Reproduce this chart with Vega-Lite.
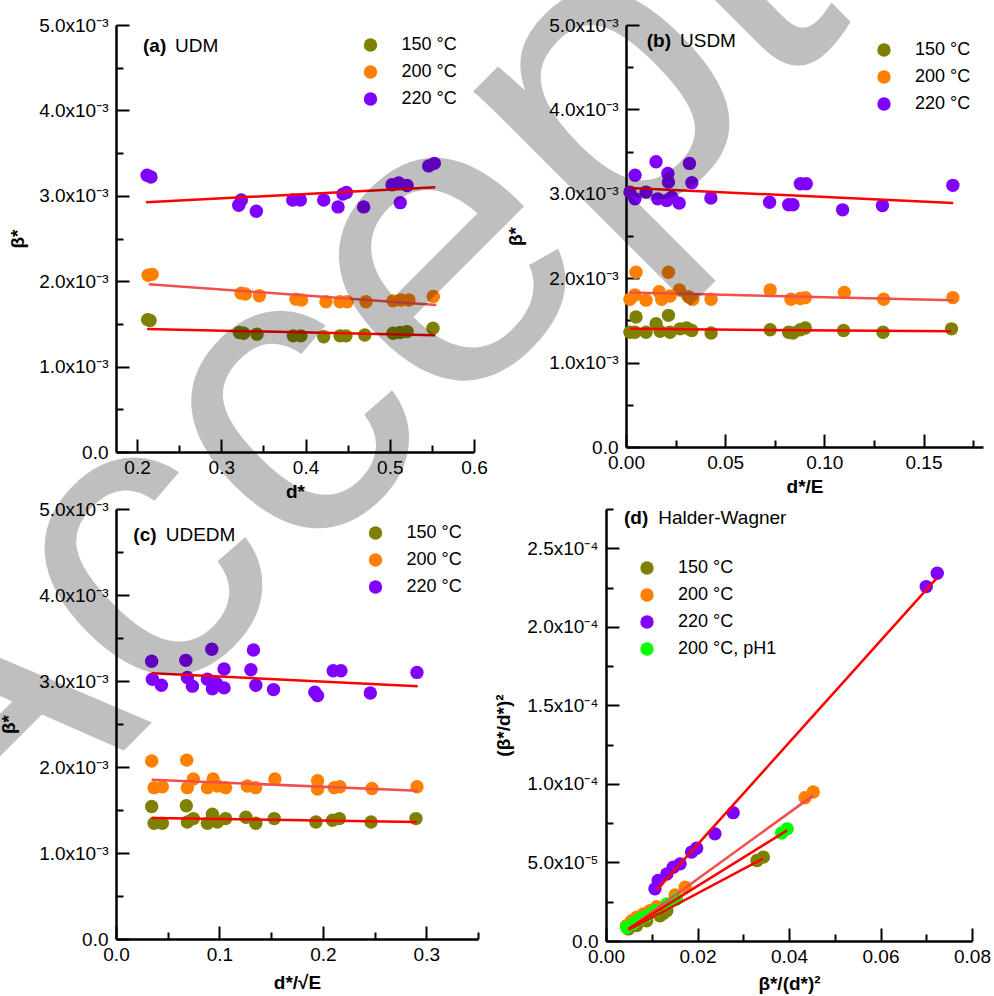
{
"$schema": "https://vega.github.io/schema/vega-lite/v6.json",
"autosize": {"type": "none"},
"padding": {"left": 116, "top": 25, "right": 878, "bottom": 971},
"background": "white",
"title": {"text": "Accepted", "anchor": "start", "frame": "group", "orient": "top", "offset": -1522, "align": "center", "baseline": "alphabetic", "angle": -45, "fontSize": 415, "font": "Liberation Sans", "fontWeight": "normal", "color": "rgba(0,0,0,0.25)", "dx": 118.5, "dy": 521.5, "zindex": 1, "limit": 10000},
"datasets": {
"a_pts": [
{"T":"150 °C","x":0.2125,"y":0.00155},{"T":"150 °C","x":0.2155,"y":0.00154},{"T":"150 °C","x":0.3215,"y":0.0014},{"T":"150 °C","x":0.3265,"y":0.00139},{"T":"150 °C","x":0.3424,"y":0.00138},{"T":"150 °C","x":0.3855,"y":0.00136},{"T":"150 °C","x":0.3945,"y":0.00136},{"T":"150 °C","x":0.4216,"y":0.00135},{"T":"150 °C","x":0.441,"y":0.00136},{"T":"150 °C","x":0.448,"y":0.00136},{"T":"150 °C","x":0.4703,"y":0.00137},{"T":"150 °C","x":0.5039,"y":0.00139},{"T":"150 °C","x":0.5122,"y":0.0014},{"T":"150 °C","x":0.5205,"y":0.00141},{"T":"150 °C","x":0.5513,"y":0.00145},
{"T":"200 °C","x":0.2131,"y":0.00207},{"T":"200 °C","x":0.2178,"y":0.00208},{"T":"200 °C","x":0.3235,"y":0.00186},{"T":"200 °C","x":0.3285,"y":0.00185},{"T":"200 °C","x":0.3452,"y":0.00183},{"T":"200 °C","x":0.3887,"y":0.00179},{"T":"200 °C","x":0.3953,"y":0.00178},{"T":"200 °C","x":0.4243,"y":0.00176},{"T":"200 °C","x":0.441,"y":0.00176},{"T":"200 °C","x":0.4493,"y":0.00176},{"T":"200 °C","x":0.4718,"y":0.00176},{"T":"200 °C","x":0.5039,"y":0.00177},{"T":"200 °C","x":0.5133,"y":0.00178},{"T":"200 °C","x":0.5228,"y":0.00178},{"T":"200 °C","x":0.5517,"y":0.00182},
{"T":"220 °C","x":0.2119,"y":0.00324},{"T":"220 °C","x":0.2165,"y":0.00322},{"T":"220 °C","x":0.3207,"y":0.00289},{"T":"220 °C","x":0.3238,"y":0.00295},{"T":"220 °C","x":0.3416,"y":0.00282},{"T":"220 °C","x":0.3848,"y":0.00295},{"T":"220 °C","x":0.3939,"y":0.00295},{"T":"220 °C","x":0.4216,"y":0.00295},{"T":"220 °C","x":0.4386,"y":0.00287},{"T":"220 °C","x":0.4445,"y":0.00302},{"T":"220 °C","x":0.4485,"y":0.00304},{"T":"220 °C","x":0.469,"y":0.00287},{"T":"220 °C","x":0.5027,"y":0.00313},{"T":"220 °C","x":0.5106,"y":0.00315},{"T":"220 °C","x":0.5125,"y":0.00292},{"T":"220 °C","x":0.5205,"y":0.00312},{"T":"220 °C","x":0.5462,"y":0.00335},{"T":"220 °C","x":0.5529,"y":0.00338}
],
"a_fit": [
{"T":"150 °C","x":0.2119,"y":0.00144},{"T":"150 °C","x":0.554,"y":0.001366},{"T":"200 °C","x":0.2139,"y":0.001964},{"T":"200 °C","x":0.5553,"y":0.001721},{"T":"220 °C","x":0.2107,"y":0.002924},{"T":"220 °C","x":0.554,"y":0.0031}
],
"b_pts": [
{"T":"150 °C","x":0.002,"y":0.00136},{"T":"150 °C","x":0.0045,"y":0.00136},{"T":"150 °C","x":0.00505,"y":0.00154},{"T":"150 °C","x":0.0101,"y":0.00136},{"T":"150 °C","x":0.01515,"y":0.00146},{"T":"150 °C","x":0.0172,"y":0.00137},{"T":"150 °C","x":0.0214,"y":0.00156},{"T":"150 °C","x":0.0222,"y":0.00136},{"T":"150 °C","x":0.0273,"y":0.0014},{"T":"150 °C","x":0.0306,"y":0.00141},{"T":"150 °C","x":0.0332,"y":0.00138},{"T":"150 °C","x":0.0429,"y":0.00135},{"T":"150 °C","x":0.0727,"y":0.00139},{"T":"150 °C","x":0.082,"y":0.00136},{"T":"150 °C","x":0.0842,"y":0.00135},{"T":"150 °C","x":0.0879,"y":0.00139},{"T":"150 °C","x":0.0904,"y":0.00141},{"T":"150 °C","x":0.1097,"y":0.00138},{"T":"150 °C","x":0.1296,"y":0.00136},{"T":"150 °C","x":0.1641,"y":0.0014},
{"T":"200 °C","x":0.002,"y":0.00175},{"T":"200 °C","x":0.0045,"y":0.0018},{"T":"200 °C","x":0.00505,"y":0.00207},{"T":"200 °C","x":0.0101,"y":0.00174},{"T":"200 °C","x":0.0167,"y":0.00184},{"T":"200 °C","x":0.018,"y":0.00175},{"T":"200 °C","x":0.0214,"y":0.00207},{"T":"200 °C","x":0.0222,"y":0.00179},{"T":"200 °C","x":0.0269,"y":0.00186},{"T":"200 °C","x":0.0315,"y":0.00178},{"T":"200 °C","x":0.0337,"y":0.00175},{"T":"200 °C","x":0.0429,"y":0.00175},{"T":"200 °C","x":0.0727,"y":0.00186},{"T":"200 °C","x":0.0832,"y":0.00175},{"T":"200 °C","x":0.0879,"y":0.00176},{"T":"200 °C","x":0.0904,"y":0.00177},{"T":"200 °C","x":0.1101,"y":0.00183},{"T":"200 °C","x":0.1299,"y":0.00175},{"T":"200 °C","x":0.1648,"y":0.00177},
{"T":"220 °C","x":0.002,"y":0.00302},{"T":"220 °C","x":0.0045,"y":0.00294},{"T":"220 °C","x":0.00455,"y":0.00322},{"T":"220 °C","x":0.0101,"y":0.00302},{"T":"220 °C","x":0.01515,"y":0.00338},{"T":"220 °C","x":0.016,"y":0.00294},{"T":"220 °C","x":0.0205,"y":0.00292},{"T":"220 °C","x":0.0211,"y":0.00324},{"T":"220 °C","x":0.0214,"y":0.00314},{"T":"220 °C","x":0.0231,"y":0.00296},{"T":"220 °C","x":0.0268,"y":0.00289},{"T":"220 °C","x":0.032,"y":0.00336},{"T":"220 °C","x":0.0332,"y":0.00313},{"T":"220 °C","x":0.0428,"y":0.00295},{"T":"220 °C","x":0.0724,"y":0.0029},{"T":"220 °C","x":0.082,"y":0.00287},{"T":"220 °C","x":0.0842,"y":0.00287},{"T":"220 °C","x":0.0879,"y":0.00312},{"T":"220 °C","x":0.0909,"y":0.00312},{"T":"220 °C","x":0.1092,"y":0.00281},{"T":"220 °C","x":0.1293,"y":0.00286},{"T":"220 °C","x":0.1648,"y":0.0031}
],
"b_fit": [
{"T":"150 °C","x":0.002,"y":0.0014},{"T":"150 °C","x":0.164,"y":0.00137},{"T":"200 °C","x":0.002,"y":0.00183},{"T":"200 °C","x":0.165,"y":0.00174},{"T":"220 °C","x":0.002,"y":0.00307},{"T":"220 °C","x":0.165,"y":0.00289}
],
"c_pts": [
{"T":"150 °C","x":0.0345,"y":0.00154},{"T":"150 °C","x":0.0368,"y":0.001345},{"T":"150 °C","x":0.0448,"y":0.001345},{"T":"150 °C","x":0.068,"y":0.00155},{"T":"150 °C","x":0.069,"y":0.00136},{"T":"150 °C","x":0.0748,"y":0.0014},{"T":"150 °C","x":0.0884,"y":0.001345},{"T":"150 °C","x":0.0932,"y":0.00145},{"T":"150 °C","x":0.098,"y":0.00136},{"T":"150 °C","x":0.106,"y":0.0014},{"T":"150 °C","x":0.1256,"y":0.001415},{"T":"150 °C","x":0.1352,"y":0.001345},{"T":"150 °C","x":0.153,"y":0.0014},{"T":"150 °C","x":0.1933,"y":0.00136},{"T":"150 °C","x":0.2094,"y":0.00138},{"T":"150 °C","x":0.2159,"y":0.0014},{"T":"150 °C","x":0.2466,"y":0.00136},{"T":"150 °C","x":0.29,"y":0.0014},
{"T":"200 °C","x":0.0345,"y":0.00207},{"T":"200 °C","x":0.0368,"y":0.00176},{"T":"200 °C","x":0.0448,"y":0.00177},{"T":"200 °C","x":0.0684,"y":0.00208},{"T":"200 °C","x":0.069,"y":0.00176},{"T":"200 °C","x":0.0748,"y":0.00186},{"T":"200 °C","x":0.0884,"y":0.00176},{"T":"200 °C","x":0.0939,"y":0.00186},{"T":"200 °C","x":0.098,"y":0.00178},{"T":"200 °C","x":0.106,"y":0.00176},{"T":"200 °C","x":0.127,"y":0.00178},{"T":"200 °C","x":0.135,"y":0.00176},{"T":"200 °C","x":0.1536,"y":0.00186},{"T":"200 °C","x":0.1949,"y":0.00184},{"T":"200 °C","x":0.1949,"y":0.001745},{"T":"200 °C","x":0.211,"y":0.00176},{"T":"200 °C","x":0.2165,"y":0.00177},{"T":"200 °C","x":0.2475,"y":0.00175},{"T":"200 °C","x":0.291,"y":0.00177},
{"T":"220 °C","x":0.0345,"y":0.00323},{"T":"220 °C","x":0.0352,"y":0.00302},{"T":"220 °C","x":0.0439,"y":0.00295},{"T":"220 °C","x":0.0675,"y":0.00324},{"T":"220 °C","x":0.069,"y":0.00304},{"T":"220 °C","x":0.0739,"y":0.00294},{"T":"220 °C","x":0.0884,"y":0.00302},{"T":"220 °C","x":0.0926,"y":0.00337},{"T":"220 °C","x":0.0932,"y":0.00291},{"T":"220 °C","x":0.0971,"y":0.00297},{"T":"220 °C","x":0.1045,"y":0.00314},{"T":"220 °C","x":0.1045,"y":0.00292},{"T":"220 °C","x":0.1304,"y":0.00313},{"T":"220 °C","x":0.1329,"y":0.00336},{"T":"220 °C","x":0.1352,"y":0.00295},{"T":"220 °C","x":0.1523,"y":0.0029},{"T":"220 °C","x":0.1923,"y":0.00287},{"T":"220 °C","x":0.1949,"y":0.00283},{"T":"220 °C","x":0.21,"y":0.00312},{"T":"220 °C","x":0.2175,"y":0.00312},{"T":"220 °C","x":0.2459,"y":0.00286},{"T":"220 °C","x":0.291,"y":0.0031}
],
"c_fit": [
{"T":"150 °C","x":0.0345,"y":0.001407},{"T":"150 °C","x":0.2907,"y":0.00136},{"T":"200 °C","x":0.0345,"y":0.001853},{"T":"200 °C","x":0.2917,"y":0.001725},{"T":"220 °C","x":0.0345,"y":0.00309},{"T":"220 °C","x":0.2917,"y":0.00294}
],
"d_pts": [
{"T":"150 °C","x":0.0049,"y":0.0000077},{"T":"150 °C","x":0.0067,"y":0.0000098},{"T":"150 °C","x":0.0089,"y":0.0000129},{"T":"150 °C","x":0.0118,"y":0.0000161},{"T":"150 °C","x":0.0125,"y":0.0000175},{"T":"150 °C","x":0.0133,"y":0.0000193},{"T":"150 °C","x":0.033,"y":0.0000512},{"T":"150 °C","x":0.0344,"y":0.0000534},
{"T":"200 °C","x":0.0045,"y":0.0000098},{"T":"200 °C","x":0.0056,"y":0.0000129},{"T":"200 °C","x":0.0067,"y":0.0000151},{"T":"200 °C","x":0.0082,"y":0.0000172},{"T":"200 °C","x":0.0096,"y":0.0000193},{"T":"200 °C","x":0.0111,"y":0.0000219},{"T":"200 °C","x":0.0151,"y":0.0000293},{"T":"200 °C","x":0.0173,"y":0.0000342},{"T":"200 °C","x":0.0435,"y":0.0000912},{"T":"200 °C","x":0.0453,"y":0.0000948},
{"T":"220 °C","x":0.0107,"y":0.0000332},{"T":"220 °C","x":0.0114,"y":0.0000385},{"T":"220 °C","x":0.0133,"y":0.0000427},{"T":"220 °C","x":0.0147,"y":0.000047},{"T":"220 °C","x":0.0162,"y":0.0000491},{"T":"220 °C","x":0.0187,"y":0.0000566},{"T":"220 °C","x":0.0198,"y":0.0000591},{"T":"220 °C","x":0.0238,"y":0.0000682},{"T":"220 °C","x":0.0278,"y":0.0000817},{"T":"220 °C","x":0.07,"y":0.0002256},{"T":"220 °C","x":0.0724,"y":0.0002341},
{"T":"200 °C, pH1","x":0.0045,"y":0.0000087},{"T":"200 °C, pH1","x":0.006,"y":0.0000113},{"T":"200 °C, pH1","x":0.0074,"y":0.000014},{"T":"200 °C, pH1","x":0.0089,"y":0.0000161},{"T":"200 °C, pH1","x":0.0107,"y":0.0000193},{"T":"200 °C, pH1","x":0.0133,"y":0.0000236},{"T":"200 °C, pH1","x":0.0154,"y":0.0000268},{"T":"200 °C, pH1","x":0.0384,"y":0.0000687},{"T":"200 °C, pH1","x":0.0396,"y":0.0000714}
],
"d_fit": [
{"T":"150 °C","x":0.0049,"y":0.000007},{"T":"150 °C","x":0.0342,"y":0.0000523},{"T":"200 °C","x":0.0049,"y":0.0000077},{"T":"200 °C","x":0.0453,"y":0.0000927},{"T":"220 °C","x":0.0111,"y":0.0000325},{"T":"220 °C","x":0.0723,"y":0.000231},{"T":"200 °C, pH1","x":0.0049,"y":0.0000077},{"T":"200 °C, pH1","x":0.0396,"y":0.0000704}
]
},
"spacing": -1,
"resolve": {"scale": {"color": "independent"}, "legend": {"color": "independent"}},
"vconcat": [
{
"spacing": 18,
"resolve": {"scale": {"color": "independent"}, "legend": {"color": "independent"}},
"hconcat": [
{
"width": 358, "height": 427,
"resolve": {"axis": {"x": "independent", "y": "independent"}},
"layer": [
{"data": {"name": "a_pts"}, "mark": {"type": "circle", "size": 180, "opacity": 1},
"encoding": {
"x": {"field": "x", "type": "quantitative", "scale": {"domain": [0.175, 0.6], "nice": false, "zero": false},
"axis": {"title": "d*", "values": [0.2,0.3,0.4,0.5,0.6], "format": ".1f", "tickSize": -13, "labelPadding": 19}},
"y": {"field": "y", "type": "quantitative", "scale": {"domain": [0, 0.005], "nice": false, "zero": false},
"axis": {"title": "β*", "titlePadding": 11, "values": [0,0.001,0.002,0.003,0.004,0.005], "labelExpr": "datum.value==0 ? '0.0' : format(datum.value*1000,'.1f')+'x10⁻³'", "tickSize": -13, "labelPadding": 21}},
"color": {"field": "T", "type": "nominal", "scale": {"domain": ["150 °C","200 °C","220 °C"], "range": ["#808000","#ff8000","#8000ff"]}, "legend": {"title": null, "orient": "none", "legendX": 245.5, "legendY": 11}}
}},
{"data": {"name": "a_fit"}, "mark": {"type": "line", "strokeWidth": 2.5},
"encoding": {
"x": {"field": "x", "type": "quantitative", "scale": {"domain": [0.175, 0.6], "nice": false, "zero": false},
"axis": {"orient": "bottom", "values": [0.25,0.35,0.45,0.55], "tickSize": -7, "labels": false, "domain": false, "title": null}},
"y": {"field": "y", "type": "quantitative", "scale": {"domain": [0, 0.005], "nice": false, "zero": false},
"axis": {"orient": "left", "values": [0.0005,0.0015,0.0025,0.0035,0.0045], "tickSize": -7, "labels": false, "domain": false, "title": null}},
"detail": {"field": "T", "type": "nominal"},
"color": {"condition": {"test": "datum.T == '200 °C'", "value": "#f24e4e"}, "value": "#ff0000"}
}},
{"data": {"values": [{}]}, "mark": {"type": "text", "text": "(a)", "align": "left", "baseline": "alphabetic", "fontSize": 19, "fontWeight": "bold", "color": "black"},
"encoding": {"x": {"datum": 0.2071, "type": "quantitative", "scale": {"domain": [0.175, 0.6], "nice": false, "zero": false}, "axis": null}, "y": {"datum": 0.004684, "type": "quantitative", "scale": {"domain": [0, 0.005], "nice": false, "zero": false}, "axis": null}}},
{"data": {"values": [{}]}, "mark": {"type": "text", "text": "UDM", "align": "left", "baseline": "alphabetic", "fontSize": 19, "fontWeight": "normal", "color": "black"},
"encoding": {"x": {"datum": 0.245, "type": "quantitative", "scale": {"domain": [0.175, 0.6], "nice": false, "zero": false}, "axis": null}, "y": {"datum": 0.004684, "type": "quantitative", "scale": {"domain": [0, 0.005], "nice": false, "zero": false}, "axis": null}}}
]
},
{
"width": 357, "height": 422,
"resolve": {"axis": {"x": "independent", "y": "independent"}},
"layer": [
{"data": {"name": "b_pts"}, "mark": {"type": "circle", "size": 180, "opacity": 1},
"encoding": {
"x": {"field": "x", "type": "quantitative", "scale": {"domain": [0, 0.18], "nice": false, "zero": false},
"axis": {"title": "d*/E", "values": [0,0.05,0.1,0.15], "format": ".2f", "tickSize": -13, "labelPadding": 19}},
"y": {"field": "y", "type": "quantitative", "scale": {"domain": [0, 0.005], "nice": false, "zero": false},
"axis": {"title": "β*", "titlePadding": 23, "values": [0,0.001,0.002,0.003,0.004,0.005], "labelExpr": "datum.value==0 ? '0.0' : format(datum.value*1000,'.1f')+'x10⁻³'", "tickSize": -13, "labelPadding": 21}},
"color": {"field": "T", "type": "nominal", "scale": {"domain": ["150 °C","200 °C","220 °C"], "range": ["#808000","#ff8000","#8000ff"]}, "legend": {"title": null, "orient": "none", "legendX": 249, "legendY": 16}}
}},
{"data": {"name": "b_fit"}, "mark": {"type": "line", "strokeWidth": 2.5},
"encoding": {
"x": {"field": "x", "type": "quantitative", "scale": {"domain": [0, 0.18], "nice": false, "zero": false},
"axis": {"orient": "bottom", "values": [0.025,0.075,0.125,0.175], "tickSize": -7, "labels": false, "domain": false, "title": null}},
"y": {"field": "y", "type": "quantitative", "scale": {"domain": [0, 0.005], "nice": false, "zero": false},
"axis": {"orient": "left", "values": [0.0005,0.0015,0.0025,0.0035,0.0045], "tickSize": -7, "labels": false, "domain": false, "title": null}},
"detail": {"field": "T", "type": "nominal"},
"color": {"condition": {"test": "datum.T == '200 °C'", "value": "#f24e4e"}, "value": "#ff0000"}
}},
{"data": {"values": [{}]}, "mark": {"type": "text", "text": "(b)", "align": "left", "baseline": "alphabetic", "fontSize": 19, "fontWeight": "bold", "color": "black"},
"encoding": {"x": {"datum": 0.01044, "type": "quantitative", "scale": {"domain": [0, 0.18], "nice": false, "zero": false}, "axis": null}, "y": {"datum": 0.004736, "type": "quantitative", "scale": {"domain": [0, 0.005], "nice": false, "zero": false}, "axis": null}}},
{"data": {"values": [{}]}, "mark": {"type": "text", "text": "USDM", "align": "left", "baseline": "alphabetic", "fontSize": 19, "fontWeight": "normal", "color": "black"},
"encoding": {"x": {"datum": 0.02723, "type": "quantitative", "scale": {"domain": [0, 0.18], "nice": false, "zero": false}, "axis": null}, "y": {"datum": 0.004736, "type": "quantitative", "scale": {"domain": [0, 0.005], "nice": false, "zero": false}, "axis": null}}}
]
}
]
},
{
"spacing": 15,
"resolve": {"scale": {"color": "independent"}, "legend": {"color": "independent"}},
"hconcat": [
{
"width": 362, "height": 430,
"resolve": {"axis": {"x": "independent", "y": "independent"}},
"layer": [
{"data": {"name": "c_pts"}, "mark": {"type": "circle", "size": 180, "opacity": 1},
"encoding": {
"x": {"field": "x", "type": "quantitative", "scale": {"domain": [0, 0.35], "nice": false, "zero": false},
"axis": {"title": "d*/√E", "titlePadding": 9, "values": [0,0.1,0.2,0.3], "format": ".1f", "tickSize": -13, "labelPadding": 19}},
"y": {"field": "y", "type": "quantitative", "scale": {"domain": [0, 0.005], "nice": false, "zero": false},
"axis": {"title": "β*", "titlePadding": 20, "values": [0,0.001,0.002,0.003,0.004,0.005], "labelExpr": "datum.value==0 ? '0.0' : format(datum.value*1000,'.1f')+'x10⁻³'", "tickSize": -13, "labelPadding": 21}},
"color": {"field": "T", "type": "nominal", "scale": {"domain": ["150 °C","200 °C","220 °C"], "range": ["#808000","#ff8000","#8000ff"]}, "legend": {"title": null, "orient": "none", "legendX": 250.5, "legendY": 15}}
}},
{"data": {"name": "c_fit"}, "mark": {"type": "line", "strokeWidth": 2.5},
"encoding": {
"x": {"field": "x", "type": "quantitative", "scale": {"domain": [0, 0.35], "nice": false, "zero": false},
"axis": {"orient": "bottom", "values": [0.05,0.15,0.25,0.35], "tickSize": -7, "labels": false, "domain": false, "title": null}},
"y": {"field": "y", "type": "quantitative", "scale": {"domain": [0, 0.005], "nice": false, "zero": false},
"axis": {"orient": "left", "values": [0.0005,0.0015,0.0025,0.0035,0.0045], "tickSize": -7, "labels": false, "domain": false, "title": null}},
"detail": {"field": "T", "type": "nominal"},
"color": {"condition": {"test": "datum.T == '200 °C'", "value": "#f24e4e"}, "value": "#ff0000"}
}},
{"data": {"values": [{}]}, "mark": {"type": "text", "text": "(c)", "align": "left", "baseline": "alphabetic", "fontSize": 19, "fontWeight": "bold", "color": "black"},
"encoding": {"x": {"datum": 0.01673, "type": "quantitative", "scale": {"domain": [0, 0.35], "nice": false, "zero": false}, "axis": null}, "y": {"datum": 0.004631, "type": "quantitative", "scale": {"domain": [0, 0.005], "nice": false, "zero": false}, "axis": null}}},
{"data": {"values": [{}]}, "mark": {"type": "text", "text": "UDEDM", "align": "left", "baseline": "alphabetic", "fontSize": 19, "fontWeight": "normal", "color": "black"},
"encoding": {"x": {"datum": 0.04805, "type": "quantitative", "scale": {"domain": [0, 0.35], "nice": false, "zero": false}, "axis": null}, "y": {"datum": 0.004631, "type": "quantitative", "scale": {"domain": [0, 0.005], "nice": false, "zero": false}, "axis": null}}}
]
},
{
"width": 366, "height": 432,
"resolve": {"axis": {"x": "independent", "y": "independent"}},
"layer": [
{"data": {"name": "d_pts"}, "mark": {"type": "circle", "size": 180, "opacity": 1},
"encoding": {
"x": {"field": "x", "type": "quantitative", "scale": {"domain": [0, 0.08], "nice": false, "zero": false},
"axis": {"title": "β*/(d*)²", "titlePadding": 8, "values": [0,0.02,0.04,0.06,0.08], "format": ".2f", "tickSize": -13, "labelPadding": 19}},
"y": {"field": "y", "type": "quantitative", "scale": {"domain": [0, 0.000275], "nice": false, "zero": false},
"axis": {"title": "(β*/d*)²", "titlePadding": 13, "values": [0,0.00005,0.0001,0.00015,0.0002,0.00025], "labelExpr": "datum.value==0 ? '0.0' : (abs(datum.value-0.00005)<1e-9 ? '5.0x10⁻⁵' : format(datum.value*10000,'.1f')+'x10⁻⁴')", "tickSize": -13, "labelPadding": 21}},
"color": {"field": "T", "type": "nominal", "scale": {"domain": ["150 °C","200 °C","220 °C","200 °C, pH1"], "range": ["#808000","#ff8000","#8000ff","#00ff00"]}, "legend": {"title": null, "orient": "none", "legendX": 32, "legendY": 50}}
}},
{"data": {"name": "d_fit"}, "mark": {"type": "line", "strokeWidth": 2.5},
"encoding": {
"x": {"field": "x", "type": "quantitative", "scale": {"domain": [0, 0.08], "nice": false, "zero": false},
"axis": {"orient": "bottom", "values": [0.01,0.03,0.05,0.07], "tickSize": -7, "labels": false, "domain": false, "title": null}},
"y": {"field": "y", "type": "quantitative", "scale": {"domain": [0, 0.000275], "nice": false, "zero": false},
"axis": {"orient": "left", "values": [0.000025,0.000075,0.000125,0.000175,0.000225,0.000275], "tickSize": -7, "labels": false, "domain": false, "title": null}},
"detail": {"field": "T", "type": "nominal"},
"color": {"condition": {"test": "datum.T == '200 °C'", "value": "#f24e4e"}, "value": "#ff0000"}
}},
{"data": {"values": [{}]}, "mark": {"type": "text", "text": "(d)", "align": "left", "baseline": "alphabetic", "fontSize": 19, "fontWeight": "bold", "color": "black"},
"encoding": {"x": {"datum": 0.003934, "type": "quantitative", "scale": {"domain": [0, 0.08], "nice": false, "zero": false}, "axis": null}, "y": {"datum": 0.0002654, "type": "quantitative", "scale": {"domain": [0, 0.000275], "nice": false, "zero": false}, "axis": null}}},
{"data": {"values": [{}]}, "mark": {"type": "text", "text": "Halder-Wagner", "align": "left", "baseline": "alphabetic", "fontSize": 19, "fontWeight": "normal", "color": "black"},
"encoding": {"x": {"datum": 0.01143, "type": "quantitative", "scale": {"domain": [0, 0.08], "nice": false, "zero": false}, "axis": null}, "y": {"datum": 0.0002654, "type": "quantitative", "scale": {"domain": [0, 0.000275], "nice": false, "zero": false}, "axis": null}}}
]
}
]
}
],
"config": {
"font": "Liberation Sans",
"view": {"stroke": null},
"axis": {"domainColor": "black", "domainWidth": 2.5, "tickColor": "black", "tickWidth": 2, "labelFontSize": 19, "labelColor": "black", "titleFontSize": 19, "titleFontWeight": "bold", "titleColor": "black", "grid": false, "labelFlush": false, "labelOverlap": false, "labelBound": false},
"axisX": {"titlePadding": 5},
"legend": {"labelFontSize": 18, "labelColor": "black", "symbolType": "circle", "symbolSize": 180, "symbolStrokeWidth": 0, "symbolOpacity": 1, "padding": 0, "rowPadding": 9, "labelOffset": 22}
}
}
